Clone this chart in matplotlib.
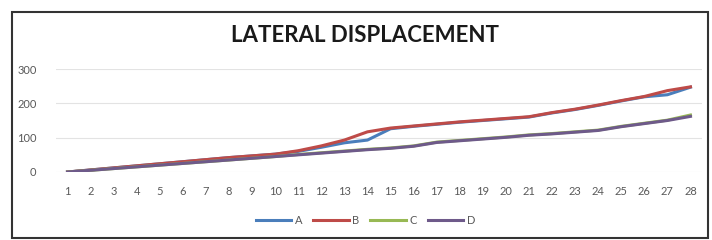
import matplotlib.pyplot as plt
from matplotlib.patches import Rectangle

plt.rcParams['font.family'] = ['Lato', 'DejaVu Sans']

# data
stations = list(range(1, 29))
series_a = [0, 6, 12, 18, 24, 30, 36, 42, 47, 52, 60, 72, 85, 93, 126, 133, 139, 145, 150, 155, 160, 172, 182, 194, 207, 219, 225, 247]
series_b = [0, 6, 12, 18, 24, 30, 36, 42, 47, 52, 62, 76, 93, 117, 128, 134, 140, 146, 151, 156, 161, 173, 183, 195, 208, 220, 237, 248]
series_c = [0, 5, 10, 15, 20, 25, 30, 35, 40, 45, 51, 56, 61, 66, 70, 76, 87, 92, 97, 102, 108, 112, 117, 122, 133, 142, 151, 166]
series_d = [0, 5, 10, 15, 20, 25, 30, 35, 40, 45, 50, 55, 60, 65, 69, 75, 86, 91, 96, 101, 107, 111, 116, 121, 132, 141, 150, 162]
names = ['A', 'B', 'C', 'D']
colors = ['#4a7ebb', '#be4b48', '#98b954', '#6e5a8a']

fig = plt.figure(figsize=(7.12, 2.4), dpi=100)
ax = fig.add_axes([56 / 712, 1 - 172 / 240, 646 / 712, 103 / 240])

for vals, name, c in zip([series_a, series_b, series_c, series_d], names, colors):
    ax.plot(stations, vals, color=c, lw=2.2, label=name)

ax.set_xlim(0.5, 28.5)
ax.set_ylim(0, 300)
ax.set_yticks([0, 100, 200, 300])
ax.set_xticks(stations)
ax.grid(axis='y', color='#e3e3e3', lw=0.8)
ax.set_axisbelow(True)
for s in ax.spines.values():
    s.set_visible(False)
ax.tick_params(length=0, labelsize=8, colors='#595959')
ax.tick_params(axis='x', pad=10)
ax.tick_params(axis='y', pad=14)

fig.text(0.513, 0.853, 'LATERAL DISPLACEMENT', ha='center', va='center',
         fontsize=16, fontweight='bold', color='#1a1a1a')

fig.legend(loc='center', bbox_to_anchor=(0.513, 0.08), ncol=4, frameon=False,
           fontsize=8, handlelength=3.2, columnspacing=1.0, handletextpad=0.3,
           labelcolor='#595959')

# dark frame around the chart
fig.patches.append(Rectangle((12 / 712, 2 / 240), 696 / 712, 226 / 240,
                             transform=fig.transFigure, fill=False,
                             ec='#333333', lw=1.5))

fig.savefig('out.png', dpi=100)
